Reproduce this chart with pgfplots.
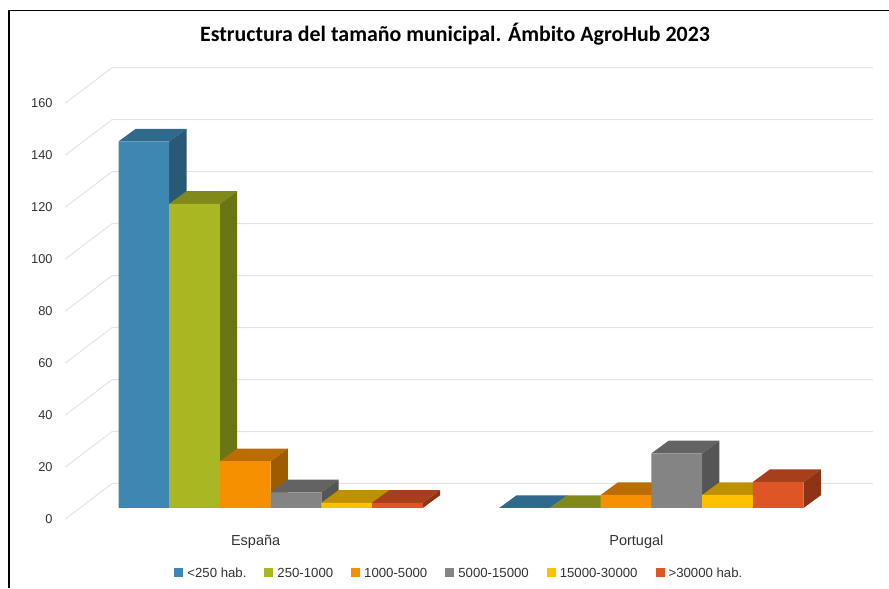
\documentclass[border=0pt]{standalone}
\usepackage{fontspec}
\setmainfont{Liberation Sans}
\newfontfamily\titlefont{Carlito}
\usepackage{pgfplots}
\pgfplotsset{compat=1.18}

% front, top and side colours
\definecolor{fA}{HTML}{3F87B3}\definecolor{tA}{HTML}{2F6A8C}\definecolor{sA}{HTML}{285A75}
\definecolor{fB}{HTML}{A9B723}\definecolor{tB}{HTML}{7F8A1A}\definecolor{sB}{HTML}{6C7515}
\definecolor{fC}{HTML}{F79000}\definecolor{tC}{HTML}{BA6D00}\definecolor{sC}{HTML}{9E5C00}
\definecolor{fD}{HTML}{848484}\definecolor{tD}{HTML}{636363}\definecolor{sD}{HTML}{555555}
\definecolor{fE}{HTML}{FFC000}\definecolor{tE}{HTML}{BF9000}\definecolor{sE}{HTML}{A27B00}
\definecolor{fF}{HTML}{DE5526}\definecolor{tF}{HTML}{A73F1C}\definecolor{sF}{HTML}{8D3417}
\definecolor{gridc}{HTML}{E4E4E4}

% 1pt of the picture is 1px of the reference: 380.8px between groups, 2.6px per unit
\def\bw{0.1332}
\def\ddx{0.0454}
\def\ddy{4.88}

% top and side of a bar: {group}{bar index}{value}{top colour}{side colour}
\newcommand{\faces}[5]{%
  \addplot[fill=#4,draw=none,forget plot] coordinates
    {(#1+#2*\bw-3*\bw,#3)(#1+#2*\bw-2*\bw,#3)(#1+#2*\bw-2*\bw+\ddx,#3+\ddy)(#1+#2*\bw-3*\bw+\ddx,#3+\ddy)} --cycle;
  \addplot[fill=#5,draw=none,forget plot] coordinates
    {(#1+#2*\bw-2*\bw,0)(#1+#2*\bw-2*\bw+\ddx,\ddy)(#1+#2*\bw-2*\bw+\ddx,#3+\ddy)(#1+#2*\bw-2*\bw,#3)} --cycle;
}

\begin{document}
\begin{tikzpicture}
\begin{axis}[
  scale only axis,
  width=889pt, height=588pt,
  xmin=-0.7106, xmax=1.6239,
  ymin=-30.77, ymax=195.38,
  axis line style={draw=none},
  major tick length=0pt,
  xtick={0,1},
  xticklabels={España,Portugal},
  xticklabel style={font=\fontsize{14.5}{16}\selectfont,text=black!80,anchor=center,xshift=-15pt,yshift=46pt},
  ytick={0,20,...,160},
  yticklabel style={font=\fontsize{12.8}{15}\selectfont,text=black!80,anchor=east,xshift=56pt,yshift=-11.5pt},
  /pgf/number format/assume math mode=true,
  title={\titlefont\bfseries Estructura del tamaño municipal. Ámbito AgroHub 2023},
  title style={at={(0.5118,0.9456)},anchor=center,yshift=-8pt,font=\fontsize{21.9}{24}\selectfont},
  legend columns=6,
  legend style={at={(0.1925,0.0255)},anchor=west,draw=none,fill=none,
    font=\fontsize{13.2}{15}\selectfont\strut,text=black!80,
    /tikz/every even column/.append style={column sep=16pt}},
  legend image code/.code={\fill[#1,draw=none] (0pt,-4.5pt) rectangle (9pt,4.5pt);\path (11pt,0pt);},
]
% walls
\pgfplotsinvokeforeach{0,20,...,160}{
  \addplot[gridc,line width=1pt,forget plot] coordinates {(-0.5398,#1-4.31)(-0.4164,#1+9.42)(1.5819,#1+9.42)};
}

\faces{0}{0}{141}{tA}{sA}\faces{1}{0}{0}{tA}{sA}
\addplot[ybar,bar width=\bw,bar shift=-2.5*\bw,fill=fA,draw=none] coordinates {(0,141)(1,0)};
\addlegendentry{<250 hab.}

\faces{0}{1}{117}{tB}{sB}\faces{1}{1}{0}{tB}{sB}
\addplot[ybar,bar width=\bw,bar shift=-1.5*\bw,fill=fB,draw=none] coordinates {(0,117)(1,0)};
\addlegendentry{250-1000}

\faces{0}{2}{18}{tC}{sC}\faces{1}{2}{5}{tC}{sC}
\addplot[ybar,bar width=\bw,bar shift=-0.5*\bw,fill=fC,draw=none] coordinates {(0,18)(1,5)};
\addlegendentry{1000-5000}

\faces{0}{3}{6}{tD}{sD}\faces{1}{3}{21}{tD}{sD}
\addplot[ybar,bar width=\bw,bar shift=0.5*\bw,fill=fD,draw=none] coordinates {(0,6)(1,21)};
\addlegendentry{5000-15000}

\faces{0}{4}{2}{tE}{sE}\faces{1}{4}{5}{tE}{sE}
\addplot[ybar,bar width=\bw,bar shift=1.5*\bw,fill=fE,draw=none] coordinates {(0,2)(1,5)};
\addlegendentry{15000-30000}

\faces{0}{5}{2}{tF}{sF}\faces{1}{5}{10}{tF}{sF}
\addplot[ybar,bar width=\bw,bar shift=2.5*\bw,fill=fF,draw=none] coordinates {(0,2)(1,10)};
\addlegendentry{>30000 hab.}

% frame of the original screenshot
\draw[black,line width=1.2pt] (rel axis cs:0.0101,0) -- (rel axis cs:0.0101,0.9825) -- (rel axis cs:1,0.9825);
\end{axis}
\end{tikzpicture}
\end{document}
